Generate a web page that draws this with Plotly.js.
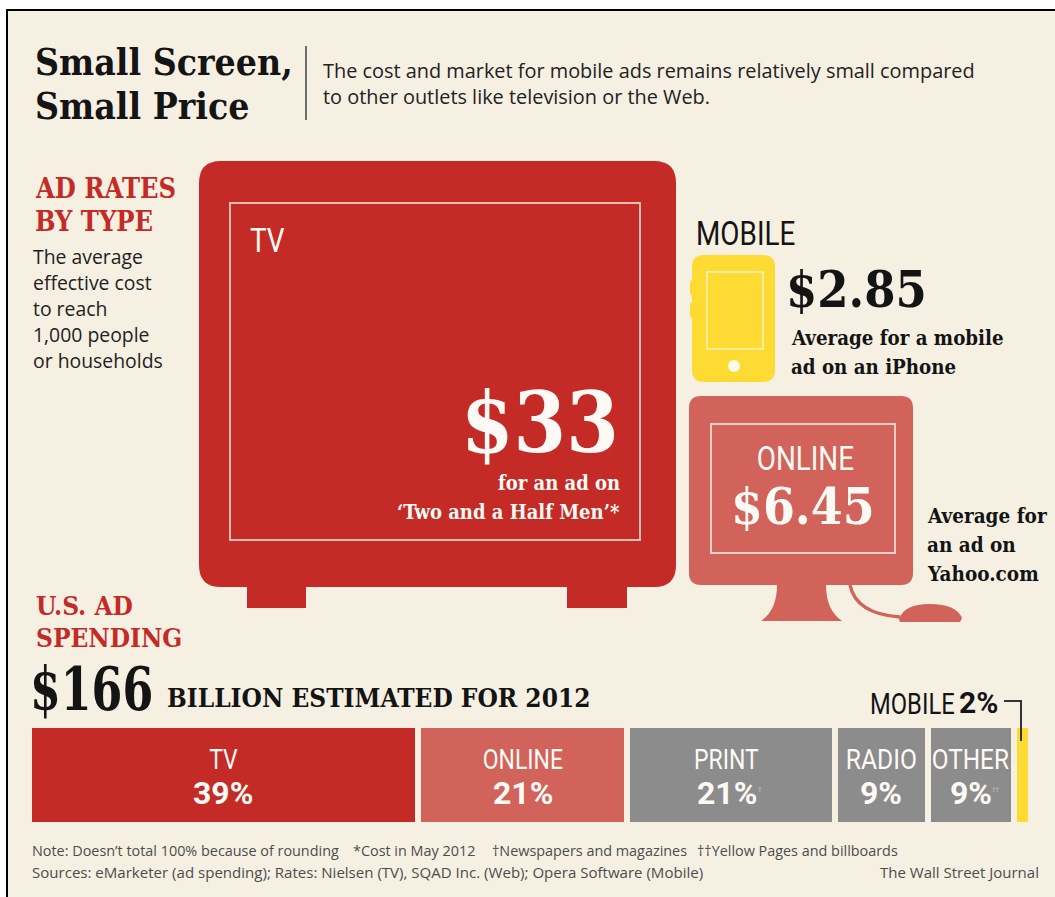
<!DOCTYPE html>
<html>
<head>
<meta charset="utf-8">
<script src="https://cdn.plot.ly/plotly-3.0.1.min.js"></script>
<style>html,body{margin:0;padding:0;background:#fff;overflow:hidden}</style>
</head>
<body>
<div id="chart" style="width:1055px;height:897px"></div>
<script>
// Ad rates, cost per 1,000 people or households (dollars)
const rateTV = 33;
const rateOnline = 6.45;
const rateMobile = 2.85;

// U.S. ad spending, 2012
const spendTotalBillions = 166;
const spendCategories = ['TV', 'ONLINE', 'PRINT', 'RADIO', 'OTHER', 'MOBILE'];
const spendPrinted = [39, 21, 21, 9, 9, 2];            // percentages as printed
const spendDrawn = [39.2, 21.1, 20.9, 9.4, 8.7, 1.7];  // segment lengths
const spendMarks = ['', '', '†', '', '††', ''];

const BG = '#f6f0e3', RED = '#c42b26', SALMON = '#d1635a', GREY = '#8c8c8c', YELLOW = '#fedb33', INK = '#141414';
const spendColors = [RED, SALMON, GREY, GREY, GREY, YELLOW];

const SLAB = '"DejaVu Serif Condensed","DejaVu Serif",serif';
const SANS = '"Open Sans",sans-serif';
const NARROW = 'Roboto,sans-serif';

// horizontal squeeze for labels set in a condensed face in the reference
const squeeze = {TV: 0.82, ONLINE: 0.82, MOBILE: 0.82, PRINT: 0.82, RADIO: 0.88, OTHER: 0.87};
squeeze['$' + spendTotalBillions] = 0.82;

const total = spendDrawn.reduce((a, b) => a + b, 0);

// stacked spending bar
const traces = spendCategories.map((c, i) => ({
  type: 'bar', orientation: 'h', name: c, x: [spendDrawn[i]], y: [0], width: 1,
  xaxis: 'x2', yaxis: 'y2', hoverinfo: 'name',
  marker: {color: spendColors[i], line: {color: BG, width: 6}}
}));

function T(text, x, y, size, family, color, anchor, bold) {
  const font = {size, family, color: color || INK};
  if (family === SANS) font.weight = 500;
  return {text: bold ? '<b>' + text + '</b>' : text, x, y, xref: 'x', yref: 'y', showarrow: false,
    xanchor: anchor || 'left', yanchor: 'middle', borderpad: 0, font};
}
const WHITE = '#fdfaf5';
const NOTE = '#4d4d4d';
const annotations = [
  T('Small Screen,', 34, 62, 37, SLAB, INK, 'left', true),
  T('Small Price', 34, 106, 37, SLAB, INK, 'left', true),
  T('The cost and market for mobile ads remains relatively small compared', 322, 70, 19.9, SANS, '#222'),
  T('to other outlets like television or the Web.', 322, 96, 19.9, SANS, '#222'),
  T('AD RATES', 34, 188, 27, SLAB, RED, 'left', true),
  T('BY TYPE', 34, 221, 27, SLAB, RED, 'left', true),
  ...['The average', 'effective cost', 'to reach', '1,000 people', 'or households'].map((s, i) =>
    T(s, 32, 256 + i * 26, 19.4, SANS, '#222')),
  T('TV', 249, 240, 34, NARROW, WHITE),
  T('$' + rateTV, 620, 422, 84, SLAB, WHITE, 'right', true),
  T('for an ad on', 621, 483, 20, SLAB, WHITE, 'right', true),
  T('‘Two and a Half Men’*', 621, 512, 20, SLAB, WHITE, 'right', true),
  T('MOBILE', 695, 233, 34, NARROW, INK),
  T('$' + rateMobile.toFixed(2), 785, 289, 50, SLAB, INK, 'left', true),
  T('Average for a mobile', 790, 338, 20.3, SLAB, INK, 'left', true),
  T('ad on an iPhone', 790, 367, 20.3, SLAB, INK, 'left', true),
  T('ONLINE', 805, 458, 34, NARROW, WHITE, 'center'),
  T('$' + rateOnline.toFixed(2), 803, 506, 51, SLAB, WHITE, 'center', true),
  T('Average for', 926, 516, 20.5, SLAB, INK, 'left', true),
  T('an ad on', 926, 545, 20.5, SLAB, INK, 'left', true),
  T('Yahoo.com', 926, 574, 20.5, SLAB, INK, 'left', true),
  T('U.S. AD', 35, 606, 26, SLAB, RED, 'left', true),
  T('SPENDING', 35, 638, 26, SLAB, RED, 'left', true),
  T('$' + spendTotalBillions, 29, 689, 60, SLAB, INK, 'left', true),
  T('BILLION ESTIMATED FOR 2012', 166, 698, 26, SLAB, INK, 'left', true),
  T('MOBILE', 869, 704, 29, NARROW, INK),
  T(spendPrinted[5] + '%', 958, 702, 30, NARROW, INK, 'left', true),
  T('Note: Doesn’t total 100% because of rounding', 31, 850, 14.4, SANS, NOTE),
  T('*Cost in May 2012', 352, 850, 14.4, SANS, NOTE),
  T('†Newspapers and magazines', 491, 850, 14.4, SANS, NOTE),
  T('††Yellow Pages and billboards', 696, 850, 14.4, SANS, NOTE),
  T('Sources: eMarketer (ad spending); Rates: Nielsen (TV), SQAD Inc. (Web); Opera Software (Mobile)', 31, 872, 15.05, SANS, NOTE),
  T('The Wall Street Journal', 1040, 872, 15, SANS, NOTE, 'right')
];

// labels inside the spending bar, positioned on the bar's own axis
let cum = 0;
spendCategories.forEach((c, i) => {
  const mid = cum + spendDrawn[i] / 2;
  cum += spendDrawn[i];
  if (i === 5) return;
  const dx = c === 'PRINT' ? -4 : 0;
  annotations.push({text: c, x: mid, y: 0.16, xref: 'x2', yref: 'y2', xshift: dx, showarrow: false, yanchor: 'middle',
    font: {size: 28, family: NARROW, color: WHITE}});
  annotations.push({text: '<b>' + spendPrinted[i] + '%</b>',
    x: mid, y: -0.18, xref: 'x2', yref: 'y2', xshift: dx, showarrow: false, yanchor: 'middle',
    font: {size: 32, family: NARROW, color: WHITE}});
  if (spendMarks[i]) annotations.push({text: spendMarks[i], x: mid, y: -0.14, xref: 'x2', yref: 'y2',
    xshift: spendPrinted[i] > 9 ? 29 : 25, showarrow: false, font: {size: 7, family: SANS, color: '#c9c9c9'}});
});

function roundRect(x0, y0, x1, y1, r) {
  return `M${x0 + r},${y0} L${x1 - r},${y0} Q${x1},${y0} ${x1},${y0 + r} L${x1},${y1 - r} Q${x1},${y1} ${x1 - r},${y1} ` +
         `L${x0 + r},${y1} Q${x0},${y1} ${x0},${y1 - r} L${x0},${y0 + r} Q${x0},${y0} ${x0 + r},${y0} Z`;
}
const fill = (path, color) => ({type: 'path', xref: 'x', yref: 'y', path, fillcolor: color, line: {width: 0}});
const box = (x0, y0, x1, y1, color, w) => ({type: 'rect', xref: 'x', yref: 'y', x0, y0, x1, y1,
  fillcolor: 'rgba(0,0,0,0)', line: {color, width: w}});
const rect = (x0, y0, x1, y1, color) => ({type: 'rect', xref: 'x', yref: 'y', x0, y0, x1, y1,
  fillcolor: color, line: {width: 0}});

const shapes = [
  {type: 'rect', xref: 'x', yref: 'y', x0: 7, y0: 10, x1: 1070, y1: 910, fillcolor: BG, line: {color: '#000', width: 2}},
  {type: 'line', xref: 'x', yref: 'y', x0: 306, x1: 306, y0: 46, y1: 120, line: {color: '#6e6e6e', width: 2}},
  // TV
  rect(247, 575, 306, 608, RED),
  rect(567, 575, 627, 608, RED),
  fill(roundRect(199, 161, 676, 587, 22), RED),
  box(230, 203, 640, 540, '#ecbcb2', 2),
  // phone
  fill(roundRect(690, 280, 698, 296, 3), YELLOW),
  fill(roundRect(690, 302, 698, 318, 3), YELLOW),
  fill(roundRect(692, 255, 775, 382, 12), YELLOW),
  box(707, 272, 763, 349, '#fbeb9c', 2),
  {type: 'circle', xref: 'x', yref: 'y', x0: 728, x1: 740, y0: 360, y1: 372, fillcolor: '#fdf9e6', line: {width: 0}},
  // monitor
  fill(roundRect(689, 396, 913, 585, 12), SALMON),
  box(711, 424, 895, 553, '#f0cdc5', 2),
  fill('M777,585 L826,585 Q826,610 842,621 L761,621 Q777,610 777,585 Z', SALMON),
  {type: 'path', xref: 'x', yref: 'y', path: 'M850,585 Q856,614 900,617', line: {color: SALMON, width: 3.5}},
  fill('M899,619 Q904,604 930,604 Q956,604 962,618 L960,622 L900,622 Z', SALMON),
  // connector of the mobile label
  {type: 'path', xref: 'x', yref: 'y', path: 'M1004,701 L1021,701 L1021,741', line: {color: '#333', width: 2}}
];

const layout = {
  width: 1055, height: 897, margin: {l: 0, r: 0, t: 0, b: 0, pad: 0},
  paper_bgcolor: '#fff', plot_bgcolor: 'rgba(0,0,0,0)', showlegend: false, barmode: 'stack', bargap: 0,
  xaxis: {domain: [0, 1], range: [0, 1055], visible: false, fixedrange: true},
  yaxis: {domain: [0, 1], range: [897, 0], visible: false, fixedrange: true},
  // bar axis is 3 px wider than the drawn bar on each side: the 6 px edge line eats half of it
  xaxis2: {domain: [29 / 1055, 1031 / 1055], range: [0, total], visible: false, fixedrange: true, anchor: 'y2'},
  yaxis2: {domain: [1 - 825 / 897, 1 - 725 / 897], range: [-0.5, 0.5], visible: false, fixedrange: true, anchor: 'x2'},
  shapes: shapes.map((s, i) => Object.assign({layer: i === 0 ? 'below' : 'above'}, s)),
  annotations
};
Plotly.newPlot('chart', traces, layout, {displayModeBar: false, staticPlot: true}).then(gd => {
  gd.querySelectorAll('.annotation').forEach(g => {
    const t = g.querySelector('text');
    const k = t && squeeze[t.textContent];
    if (!k) return;
    const a = annotations[+g.getAttribute('data-index')];
    const origin = a.xanchor === 'left' ? '0%' : a.xanchor === 'right' ? '100%' : '50%';
    t.style.transformBox = 'fill-box';
    t.style.transformOrigin = origin + ' 50%';
    t.style.transform = 'scaleX(' + k + ')';
  });
});
</script>
</body>
</html>
